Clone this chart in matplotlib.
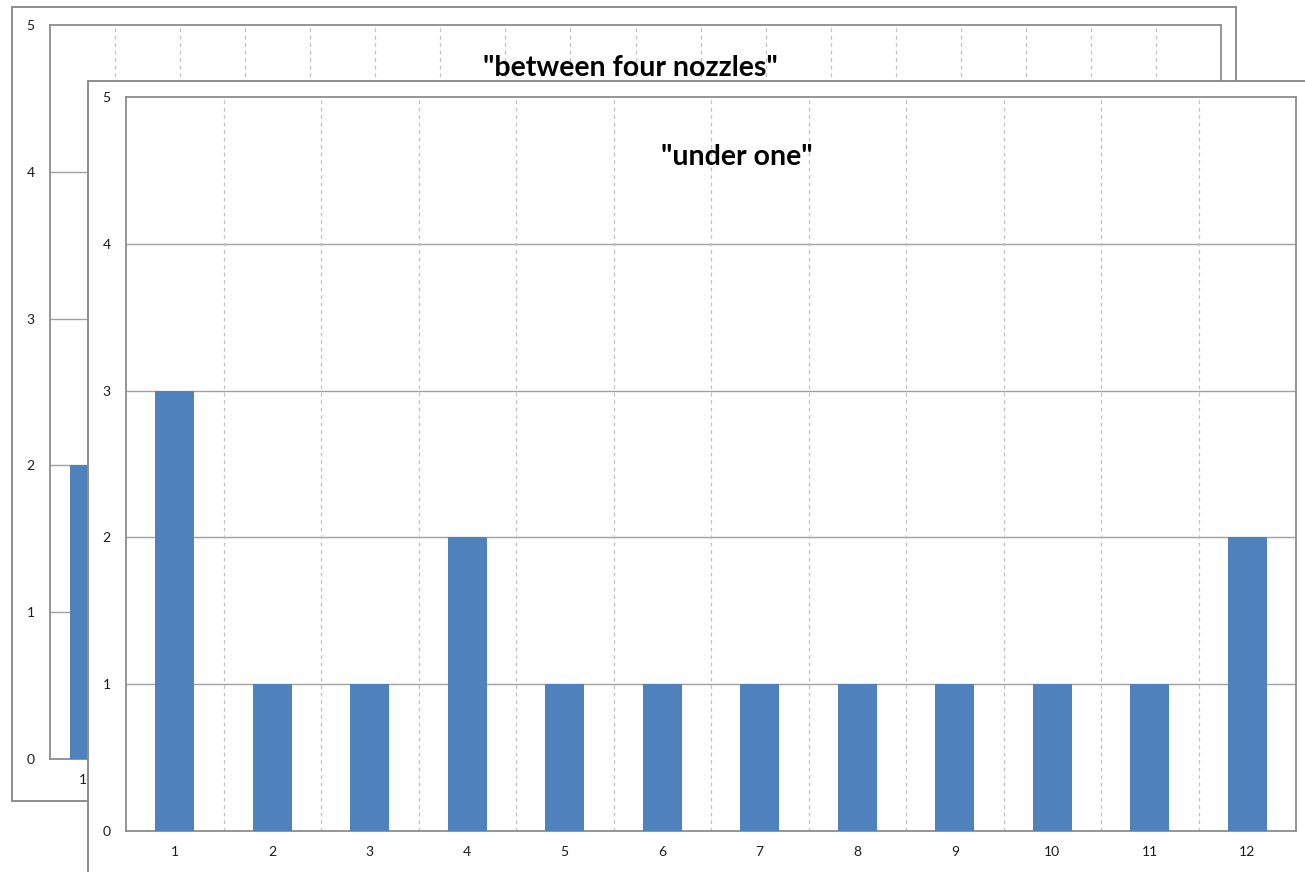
import matplotlib
matplotlib.use("Agg")
import matplotlib.pyplot as plt
from matplotlib.patches import Rectangle

# Back chart: spray distribution "between four nozzles" (only the first column is visible)
back_categories = list(range(1, 19))
back_values = [2]

# Front chart: spray distribution "under one" nozzle
front_categories = list(range(1, 13))
front_values = [3, 1, 1, 2, 1, 1, 1, 1, 1, 1, 1, 2]

y_ticks = [0, 1, 2, 3, 4, 5]

W, H = 1305, 872
BAR = "#4F81BD"
FRAME = "#8c8c8c"
GRID = "#a0a0a0"
VGRID = "#c0c0c0"
TEXT = "#1a1a1a"
plt.rcParams["font.family"] = ["Lato", "DejaVu Sans"]

fig = plt.figure(figsize=(W / 100, H / 100), dpi=100)


def px_rect(x0, y0, x1, y1):
    """Convert a pixel box (top-left origin) to figure fractions."""
    return [x0 / W, (H - y1) / H, (x1 - x0) / W, (y1 - y0) / H]


def panel(x0, y0, x1, y1, z):
    l, b, w, h = px_rect(x0, y0, x1, y1)
    fig.patches.append(Rectangle((l, b), w, h, transform=fig.transFigure,
                                 facecolor="white", edgecolor=FRAME,
                                 linewidth=1.4, zorder=z))


def style_axes(ax, categories, values, title, title_xy, z):
    ax.set_zorder(z)
    ax.set_facecolor("white")
    n = len(categories)
    xs = list(range(n))
    ax.bar(xs[:len(values)], values, width=0.4, color=BAR, zorder=3)
    ax.set_xlim(-0.5, n - 0.5)
    ax.set_ylim(0, 5)
    ax.set_yticks(y_ticks)
    ax.set_xticks(xs)
    ax.set_xticklabels([str(c) for c in categories])
    ax.tick_params(length=0, labelsize=10, colors=TEXT)
    ax.tick_params(axis="y", pad=11)
    ax.tick_params(axis="x", pad=11)
    for s in ax.spines.values():
        s.set_color(FRAME)
        s.set_linewidth(1.3)
    for y in y_ticks[1:-1]:
        ax.axhline(y, color=GRID, linewidth=1.0, zorder=1)
    for i in range(1, n):
        ax.axvline(i - 0.5, color=VGRID, linewidth=0.9,
                   linestyle=(0, (3, 3)), zorder=1)
    ax.text(title_xy[0], title_xy[1], title, transform=fig.transFigure,
            ha="center", va="center", fontsize=20.5, fontweight="bold",
            color="black", zorder=5)


# Back chart
panel(12, 7, 1236, 801, 1)
ax_back = fig.add_axes(px_rect(50, 25, 1221, 759))
style_axes(ax_back, back_categories, back_values, '"between four nozzles"',
           (630 / W, 1 - 68 / H), 2)

# Front chart
panel(88, 81, 1330, 900, 3)
ax_front = fig.add_axes(px_rect(126, 97, 1296, 831))
style_axes(ax_front, front_categories, front_values, '"under one"',
           (737 / W, 1 - 157 / H), 4)

fig.savefig("out.png", dpi=100, facecolor="white")
